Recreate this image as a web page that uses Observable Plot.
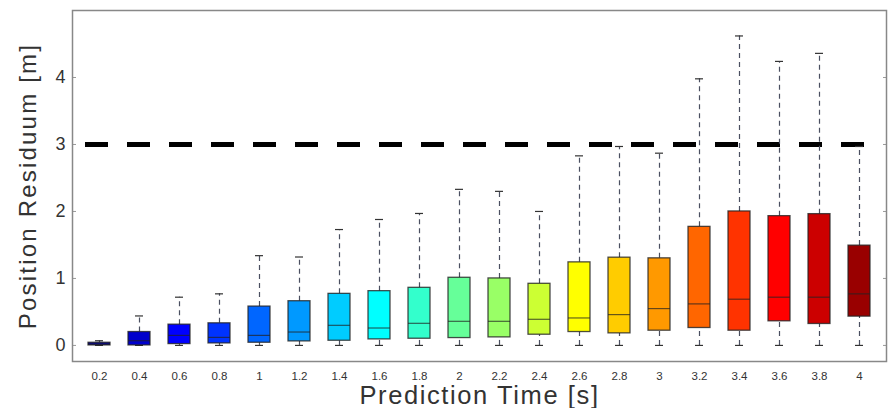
<!DOCTYPE html>
<html>
<head>
<meta charset="utf-8">
<script src="https://cdn.jsdelivr.net/npm/d3@7"></script>
<script src="https://cdn.jsdelivr.net/npm/@observablehq/plot@0.6"></script>
<style>
  html, body { margin: 0; padding: 0; background: #fff; }
  #chart { width: 895px; height: 408px; }
</style>
</head>
<body>
<div id="chart"></div>
<script>
// Categories (prediction time, s)
const times = ["0.2","0.4","0.6","0.8","1","1.2","1.4","1.6","1.8","2","2.2","2.4","2.6","2.8","3","3.2","3.4","3.6","3.8","4"];
// Box statistics (position residuum, m)
const whiskerLow = [0,0,0,0,0,0,0,0,0,0,0,0,0,0,0,0,0,0,0,0];
const q1 =        [0.00,0.00,0.02,0.03,0.04,0.06,0.07,0.09,0.10,0.11,0.12,0.16,0.20,0.18,0.22,0.26,0.22,0.36,0.32,0.43];
const median =    [0.02,0.07,0.15,0.12,0.15,0.20,0.30,0.26,0.33,0.36,0.36,0.39,0.41,0.46,0.55,0.62,0.69,0.72,0.72,0.77];
const q3 =        [0.04,0.20,0.31,0.33,0.58,0.66,0.77,0.81,0.86,1.01,1.00,0.92,1.24,1.31,1.30,1.77,2.00,1.93,1.96,1.49];
const whiskerHigh=[0.07,0.44,0.72,0.77,1.34,1.32,1.73,1.88,1.97,2.33,2.30,2.00,2.83,2.97,2.87,3.98,4.62,4.24,4.36,2.97];
// jet(20) colours
const colors = ["#000099","#0000CC","#0000FF","#0033FF","#0066FF","#0099FF","#00CCFF","#00FFFF","#33FFCC","#66FF99",
                "#99FF66","#CCFF33","#FFFF00","#FFCC00","#FF9900","#FF6600","#FF3300","#FF0000","#CC0000","#990000"];
const yTicks = [0, 1, 2, 3, 4];
const threshold = [3];
const xLabel = "Prediction Time [s]";
const yLabel = "Position Residuum [m]";

const data = times.map((t, i) => ({
  t, lo: whiskerLow[i], q1: q1[i], med: median[i], q3: q3[i], hi: whiskerHigh[i], color: colors[i]
}));

const chart = Plot.plot({
  width: 895,
  height: 408,
  marginLeft: 72,
  marginRight: 9,
  marginTop: 10,
  marginBottom: 47,
  style: { fontFamily: "'Liberation Sans', Arial, sans-serif", background: "#fff", color: "#333" },
  x: { domain: times, paddingInner: 0.46, paddingOuter: 0.23 },
  y: { domain: [-0.24, 5.0] },
  marks: [
    Plot.axisY({ anchor: "left", ticks: yTicks, tickSize: 0, tickPadding: 7, fontSize: 18, label: null, tickFormat: d => String(d) }),
    Plot.axisY({ anchor: "left", ticks: yTicks, tickSize: -4, tickFormat: () => "", label: null, stroke: "#999" }),
    Plot.axisY({ anchor: "right", ticks: yTicks, tickSize: -4, tickFormat: () => "", label: null, stroke: "#999" }),
    Plot.axisX({ anchor: "bottom", tickSize: 0, tickPadding: 10, fontSize: 11.5, label: null }),
    Plot.ruleY(threshold, { insetLeft: 13, insetRight: 22, stroke: "#000", strokeWidth: 5, strokeDasharray: "23,19" }),
    Plot.ruleX(data, { x: "t", y1: "q3", y2: "hi", stroke: "#4a4f60", strokeWidth: 1.2, strokeDasharray: "5,4" }),
    Plot.ruleX(data, { x: "t", y1: "lo", y2: "q1", stroke: "#4a4f60", strokeWidth: 1.2, strokeDasharray: "5,4" }),
    Plot.tickY(data, { x: "t", y: "hi", stroke: "#333", strokeWidth: 1.2, insetLeft: 7, insetRight: 7 }),
    Plot.tickY(data, { x: "t", y: "lo", stroke: "#333", strokeWidth: 1.2, insetLeft: 7, insetRight: 7 }),
    Plot.barY(data, { x: "t", y1: "q1", y2: "q3", fill: "color", stroke: "#222", strokeWidth: 1.3, strokeOpacity: 0.8 }),
    Plot.tickY(data, { x: "t", y: "med", stroke: "#222", strokeWidth: 1.2, strokeOpacity: 0.7 }),
    Plot.frame({ stroke: "#888", strokeWidth: 1.5 }),
    Plot.text([yLabel], { frameAnchor: "left", textAnchor: "middle", lineAnchor: "middle", rotate: -90, dx: -44, fontSize: 24, fill: "#333", style: "letter-spacing: 2.2px" }),
    Plot.text([xLabel], { frameAnchor: "bottom", textAnchor: "middle", lineAnchor: "middle", dy: 34, fontSize: 25.5, fill: "#333" })
  ]
});
// letter spacing for axis titles (the reference's titles are wider than plain glyphs)
chart.querySelectorAll("text").forEach(el => {
  if (el.textContent === yLabel) el.setAttribute("letter-spacing", "2.2");
  if (el.textContent === xLabel) el.setAttribute("letter-spacing", "1.6");
});
document.getElementById("chart").appendChild(chart);
</script>
</body>
</html>
